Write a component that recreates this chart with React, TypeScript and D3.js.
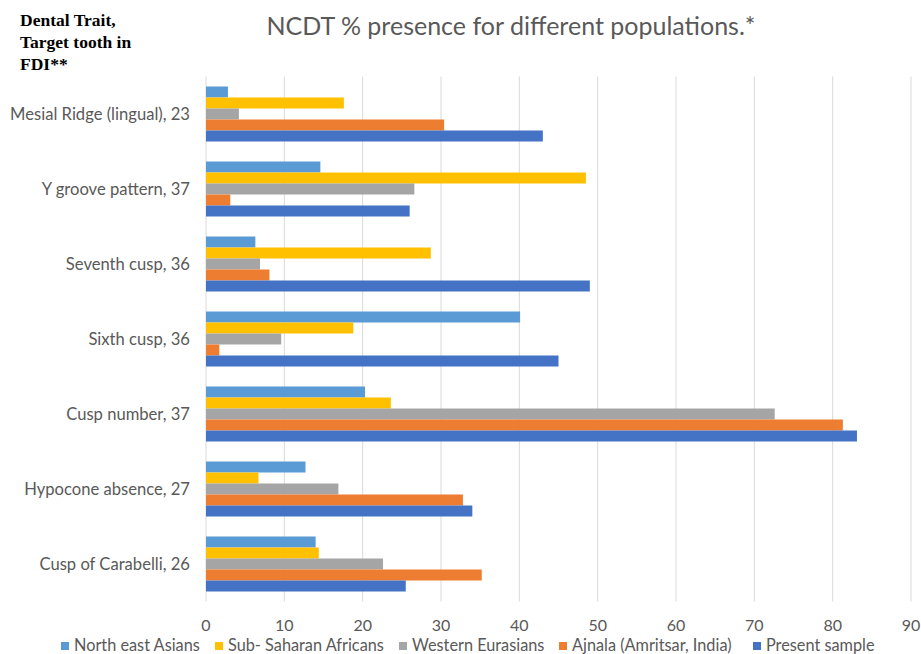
import React from "react";
import * as d3 from "d3";

const categories = [
  "Mesial Ridge (lingual), 23",
  "Y groove pattern, 37",
  "Seventh cusp, 36",
  "Sixth cusp, 36",
  "Cusp number, 37",
  "Hypocone absence, 27",
  "Cusp of Carabelli, 26",
];
const seriesNames = [
  "North east Asians",
  "Sub- Saharan Africans",
  "Western Eurasians",
  "Ajnala (Amritsar, India)",
  "Present sample",
];
const northEastAsians = [2.8, 14.6, 6.3, 40.1, 20.3, 12.7, 14.0];
const subSaharanAfricans = [17.6, 48.5, 28.7, 18.8, 23.6, 6.7, 14.4];
const westernEurasians = [4.2, 26.6, 6.9, 9.6, 72.6, 16.9, 22.6];
const ajnala = [30.4, 3.1, 8.1, 1.7, 81.3, 32.8, 35.2];
const presentSample = [43.0, 26.0, 49.0, 45.0, 83.1, 34.0, 25.5];
const xTicks = [0, 10, 20, 30, 40, 50, 60, 70, 80, 90];

const seriesValues = [northEastAsians, subSaharanAfricans, westernEurasians, ajnala, presentSample];
const colors = ["#5B9BD5", "#FFC000", "#A5A5A5", "#ED7D31", "#4472C4"];

const FONT = "Lato, 'Open Sans', sans-serif";

export default function App() {
  const W = 921, H = 654;
  const left = 206, right = 911, top = 76.5, bottom = 601.5;
  const x = d3.scaleLinear().domain([0, 90]).range([left, right]);
  const y = d3.scaleBand<string>().domain(categories).range([top, bottom]).paddingInner(20 / 75).paddingOuter(10 / 75);
  const inner = d3.scaleBand<number>().domain(d3.range(5)).range([0, y.bandwidth()]);

  const legendX = [61, 215, 399, 559, 753];

  return (
    <svg width={W} height={H} style={{ position: "absolute", left: 0, top: 0, background: "#fff" }}>
      <rect width={W} height={H} fill="#fff" />
      <g fontFamily="'Liberation Serif', 'Times New Roman', serif" fontWeight="bold" fontSize={17.5} fill="#000">
        <text x={20} y={26}>Dental Trait,</text>
        <text x={20} y={48}>Target tooth in</text>
        <text x={20} y={70}>FDI**</text>
      </g>
      <text x={511} y={35} textAnchor="middle" fontFamily={FONT} fontSize={25} fill="#595959">
        NCDT % presence for different populations.*
      </text>
      {xTicks.map((t) => (
        <line key={"g" + t} x1={x(t)} x2={x(t)} y1={top} y2={bottom} stroke="#D9D9D9" strokeWidth={1} />
      ))}
      {categories.map((c, ci) => (
        <g key={c}>
          {seriesValues.map((vals, si) => (
            <rect
              key={si}
              x={x(0)}
              y={(y(c) as number) + (inner(si) as number)}
              width={x(vals[ci]) - x(0)}
              height={inner.bandwidth()}
              fill={colors[si]}
            />
          ))}
          <text
            x={190}
            y={(y(c) as number) + y.bandwidth() / 2 + 5.5}
            textAnchor="end"
            fontFamily={FONT}
            fontSize={16.6}
            fill="#595959"
          >
            {c}
          </text>
        </g>
      ))}
      {xTicks.map((t) => (
        <text key={"t" + t} x={x(t)} y={631} textAnchor="middle" fontFamily={FONT} fontSize={16} fill="#595959">
          {t}
        </text>
      ))}
      {seriesNames.map((s, i) => (
        <g key={s}>
          <rect x={legendX[i]} y={642} width={8} height={8} fill={colors[i]} />
          <text x={legendX[i] + 13} y={651} fontFamily={FONT} fontSize={16.3} fill="#595959">
            {s}
          </text>
        </g>
      ))}
    </svg>
  );
}
